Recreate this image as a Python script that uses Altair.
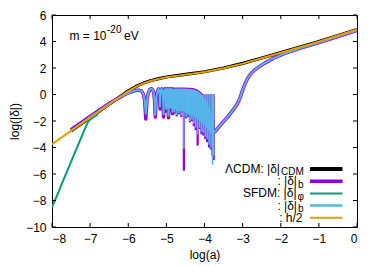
import altair as alt
import pandas as pd

# ---------------- data ----------------
# h/2 (orange)
h2_x = [-8, -7.5, -7, -6.5, -6.2, -6.0, -5.8, -5.6, -5.4, -5.2, -5.0, -4.5, -4.0, -3.5, -3.0, -2.5, -2.0, -1.5, -1.0, -0.5, 0]
h2_y = [-3.75, -2.75, -1.75, -0.75, -0.15, 0.25, 0.58, 0.84, 1.04, 1.18, 1.3, 1.5, 1.7, 1.98, 2.33, 2.74, 3.15, 3.57, 3.99, 4.45, 4.9]

# LCDM |delta|_CDM (black)
cdm_x = [-7.5, -7, -6.5, -6.2, -6.0, -5.8, -5.6, -5.4, -5.2, -5.0, -4.5, -4.0, -3.5, -3.0, -2.5, -2.0, -1.5, -1.0, -0.5, 0]
cdm_y = [-2.75, -1.75, -0.74, -0.14, 0.27, 0.6, 0.86, 1.06, 1.2, 1.32, 1.52, 1.72, 2.0, 2.35, 2.76, 3.16, 3.58, 4.0, 4.46, 4.9]

# SFDM |delta|_phi (green)
phi_x = [-8, -7.85, -7.7, -7.55, -7.45, -7.3, -7.19, -7.1, -7.05, -7.0, -6.9, -6.8]
phi_y = [-8.5, -7.5, -6.45, -5.42, -4.72, -3.7, -2.95, -2.35, -2.05, -1.9, -1.7, -1.52]

# baryons, early part (oscillating), blue and purple dip depths differ
osc_x = [-7.5, -7.0, -6.5, -6.3, -6.1, -5.95, -5.82, -5.72, -5.65, -5.6, -5.57, -5.54, -5.51, -5.48,
         -5.44, -5.40, -5.36, -5.33, -5.31, -5.29, -5.27, -5.24, -5.21, -5.19, -5.175, -5.165, -5.155,
         -5.14, -5.12, -5.10, -5.085, -5.075, -5.065, -5.05, -5.035, -5.02, -5.005, -4.99, -4.975,
         -4.96, -4.945, -4.93, -4.915, -4.9, -4.89, -4.88, -4.865, -4.85, -4.84, -4.83]
osc_b = [-2.72, -1.7, -0.7, -0.33, -0.02, 0.17, 0.3, 0.33, 0.25, 0.0, -0.45, -1.45, -0.45, 0.05,
         0.35, 0.44, 0.38, 0.1, -0.4, -1.55, -0.4, 0.15, 0.42, 0.38, 0.0, -0.9, 0.0,
         0.38, 0.43, 0.2, -0.3, -1.5, -0.3, 0.3, 0.43, 0.2, -1.1, 0.2, 0.43,
         0.3, -1.6, 0.3, 0.43, 0.3, -1.0, 0.3, 0.44, 0.3, -1.3, 0.3]
osc_p = [-2.65, -1.65, -0.68, -0.33, -0.02, 0.17, 0.3, 0.33, 0.25, 0.0, -0.45, -1.85, -0.45, 0.05,
         0.35, 0.44, 0.38, 0.1, -0.4, -1.7, -0.4, 0.15, 0.42, 0.38, 0.0, -1.1, 0.0,
         0.38, 0.43, 0.2, -0.3, -1.7, -0.3, 0.3, 0.43, 0.2, -1.25, 0.2, 0.43,
         0.3, -1.75, 0.3, 0.43, 0.3, -1.2, 0.3, 0.44, 0.3, -1.45, 0.3]

# dense oscillation band (envelopes)
band_x = [-4.83, -4.7, -4.55, -4.4, -4.3, -4.2, -4.12, -4.05, -3.98, -3.92, -3.86, -3.81, -3.77, -3.745]
band_top = [0.44, 0.45, 0.45, 0.43, 0.4, 0.3, 0.15, -0.05, -0.35, -0.7, -1.05, -1.5, -2.0, -2.75]
band_bot = [-1.1, -1.2, -1.3, -1.45, -1.6, -1.8, -2.0, -2.2, -2.4, -2.6, -2.8, -3.0, -3.1, -2.85]

# spikes inside the band
spk_x = [-4.79, -4.73, -4.67, -4.61, -4.54, -4.48, -4.43, -4.38, -4.33, -4.28, -4.23, -4.18, -4.13,
         -4.08, -4.03, -3.98, -3.93, -3.88, -3.83, -3.79, -3.76]
spk_b = [-1.35, -1.55, -1.4, -1.6, -4.1, -1.7, -1.6, -2.0, -1.9, -2.2, -2.5, -3.0, -2.5,
         -2.8, -2.9, -3.2, -3.35, -3.8, -4.0, -5.3, -4.6]
spk_p = [-1.45, -1.65, -1.5, -1.7, -5.75, -1.8, -1.7, -2.1, -2.0, -2.4, -2.7, -3.85, -2.6,
         -3.0, -3.1, -3.35, -3.6, -4.0, -4.15, -4.6, -4.95]

# baryons, late growth
gro_x = [-3.745, -3.69, -3.55, -3.39, -3.26, -3.13, -3.06, -3.0, -2.93, -2.87, -2.78, -2.69, -2.55,
         -2.43, -2.2, -1.91, -1.5, -1.0, -0.5, 0]
gro_y = [-2.85, -2.69, -2.2, -1.69, -1.2, -0.67, -0.2, 0.33, 0.85, 1.21, 1.58, 1.84, 2.12,
         2.35, 2.72, 3.08, 3.48, 3.92, 4.38, 4.84]

x_ticks = [-8, -7, -6, -5, -4, -3, -2, -1, 0]
y_ticks = [-10, -8, -6, -4, -2, 0, 2, 4, 6]

leg_main = ["\u039bCDM: |\u03b4|", ": |\u03b4|", "SFDM: |\u03b4|", ": |\u03b4|", ": h/2"]
leg_sub = ["CDM", "b", "\u03c6", "b", ""]
annot_main = "m = 10"
annot_sup = "-20"
annot_unit = "eV"

# ---------------- styling ----------------
BLACK = "#000000"
PURPLE = "#9400D3"
GREEN = "#009E73"
BLUE = "#56B4E9"
ORANGE = "#E69F00"
FONT = "Liberation Sans"
W, H = 305, 212

xs = alt.Scale(domain=[-8, 0], nice=False, zero=False)
ys = alt.Scale(domain=[-10, 6], nice=False, zero=False)

x_axis = alt.Axis(values=x_ticks, ticks=False, domain=False, grid=False,
                  labelFont=FONT, labelFontSize=12, labelColor=BLACK, labelPadding=6,
                  title="log(a)", titleFont=FONT, titleFontSize=12, titleFontWeight="normal",
                  titleColor=BLACK, titlePadding=5, format="d")
y_axis = alt.Axis(values=y_ticks, ticks=False, domain=False, grid=False,
                  labelFont=FONT, labelFontSize=12, labelColor=BLACK, labelPadding=6,
                  title="log(|\u03b4|)", titleFont=FONT, titleFontSize=12, titleFontWeight="normal",
                  titleColor=BLACK, titlePadding=4, format="d")

XN = lambda f="x": alt.X(f"{f}:Q", scale=xs, axis=x_axis)
YN = lambda f="y": alt.Y(f"{f}:Q", scale=ys, axis=y_axis)


def line(xv, yv, color, width):
    df = pd.DataFrame({"x": xv, "y": yv})
    return alt.Chart(df).mark_line(color=color, strokeWidth=width, clip=True,
                                   strokeJoin="round").encode(x=XN(), y=YN())


band_df = pd.DataFrame({"x": band_x, "top": band_top, "bot": band_bot})
spk_df = pd.DataFrame({"x": spk_x, "b": spk_b, "p": spk_p, "t": [0.0] * len(spk_x)})

layers = []

# black LCDM CDM
layers.append(line(cdm_x, cdm_y, BLACK, 3.2))

# purple: LCDM baryons
layers.append(line(osc_x, osc_p, PURPLE, 3.5))
layers.append(alt.Chart(band_df).mark_area(color=PURPLE, stroke=PURPLE, strokeWidth=2.2, clip=True).encode(
    x=XN(), y=YN("top"), y2=alt.Y2("bot:Q")))
layers.append(alt.Chart(spk_df).mark_rule(color=PURPLE, strokeWidth=2.3, clip=True).encode(
    x=XN(), y=YN("t"), y2=alt.Y2("p:Q")))
layers.append(line(gro_x, gro_y, PURPLE, 3.5))

# green SFDM phi
layers.append(line(phi_x, phi_y, GREEN, 2))

# blue SFDM baryons
layers.append(line(osc_x, osc_b, BLUE, 2))
layers.append(alt.Chart(band_df).mark_area(color=BLUE, clip=True).encode(
    x=XN(), y=YN("top"), y2=alt.Y2("bot:Q")))
layers.append(alt.Chart(spk_df).mark_rule(color=BLUE, strokeWidth=1.6, clip=True).encode(
    x=XN(), y=YN("t"), y2=alt.Y2("b:Q")))
layers.append(line(gro_x, gro_y, BLUE, 2))

# orange h/2
layers.append(line(h2_x, h2_y, ORANGE, 2))

# inward ticks on all four sides
xt = pd.DataFrame({"x": x_ticks})
yt = pd.DataFrame({"y": y_ticks})
layers.append(alt.Chart(xt).mark_rule(color=BLACK, strokeWidth=1).encode(
    x=XN(), y=alt.value(H), y2=alt.value(H - 4)))
layers.append(alt.Chart(xt).mark_rule(color=BLACK, strokeWidth=1).encode(
    x=XN(), y=alt.value(0), y2=alt.value(4)))
layers.append(alt.Chart(yt).mark_rule(color=BLACK, strokeWidth=1).encode(
    y=YN(), x=alt.value(0), x2=alt.value(4)))
layers.append(alt.Chart(yt).mark_rule(color=BLACK, strokeWidth=1).encode(
    y=YN(), x=alt.value(W - 4), x2=alt.value(W)))


def txt(s, x, y, size=12, align="left"):
    return alt.Chart(pd.DataFrame({"t": [s]})).mark_text(
        font=FONT, fontSize=size, align=align, baseline="middle", color=BLACK).encode(
        text="t:N", x=alt.value(x), y=alt.value(y))


# annotation
layers.append(txt(annot_main, 54.5, 21, 12, "right"))
layers.append(txt(annot_sup, 55, 15, 10, "left"))
layers.append(txt(annot_unit, 72, 21, 12, "left"))

# legend
sub_w = {"CDM": 22.5, "b": 5.5, "\u03c6": 6.0, "": 0.0}
line_colors = [BLACK, PURPLE, GREEN, BLUE, ORANGE]
line_widths = [4, 3.5, 2, 2.5, 2]
right_edge = 251
for i in range(5):
    yy = 154 + i * 12.2
    main_right = right_edge - sub_w[leg_sub[i]]
    layers.append(txt(leg_main[i], main_right - 0.5, yy, 12, "right"))
    if leg_sub[i]:
        layers.append(txt(leg_sub[i], main_right + 0.5, yy + 3.3, 10, "left"))
    layers.append(alt.Chart(pd.DataFrame({"k": [i]})).mark_rule(
        color=line_colors[i], strokeWidth=line_widths[i]).encode(
        x=alt.value(258), x2=alt.value(290.5), y=alt.value(yy)))

chart = alt.layer(*layers).properties(
    width=W, height=H, background="white",
    autosize=alt.AutoSizeParams(type="none"),
    padding={"left": 44, "top": 7, "right": 13, "bottom": 39},
).configure_view(stroke=BLACK, strokeWidth=1)

chart.save("out.html", embed_options={"renderer": "svg", "actions": False})
